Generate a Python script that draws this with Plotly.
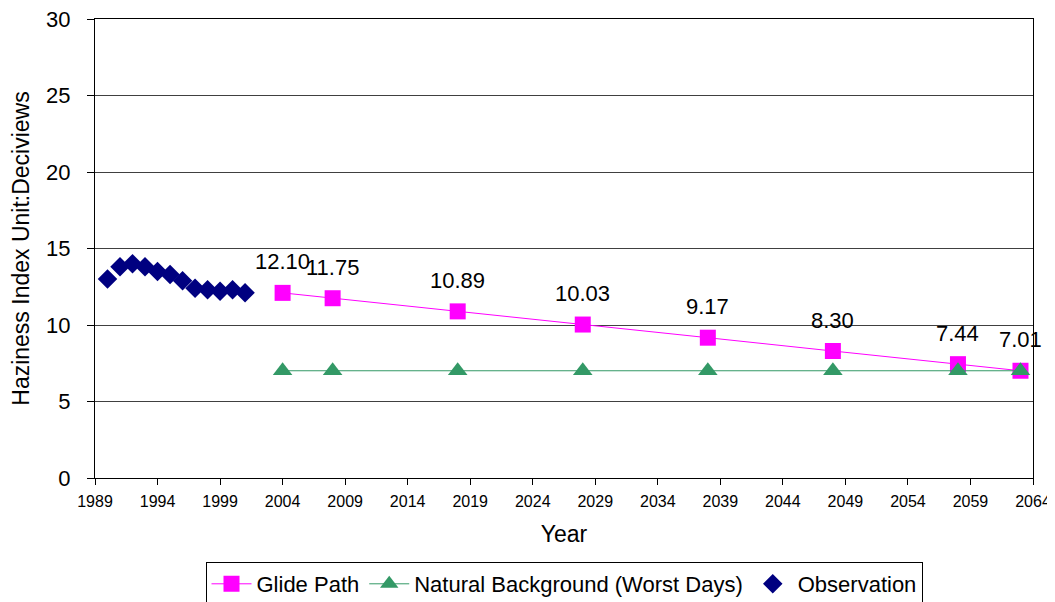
import plotly.graph_objects as go

obs_years = [1990, 1991, 1992, 1993, 1994, 1995, 1996, 1997, 1998, 1999, 2000, 2001]
obs_values = [13.0, 13.8, 14.0, 13.8, 13.5, 13.3, 12.9, 12.4, 12.3, 12.2, 12.3, 12.1]

glide_years = [2004, 2008, 2018, 2028, 2038, 2048, 2058, 2063]
glide_values = [12.10, 11.75, 10.89, 10.03, 9.17, 8.30, 7.44, 7.01]

natural_years = [2004, 2008, 2018, 2028, 2038, 2048, 2058, 2063]
natural_values = [7.01, 7.01, 7.01, 7.01, 7.01, 7.01, 7.01, 7.01]

x_ticks = list(range(1989, 2065, 5))
y_ticks = [0, 5, 10, 15, 20, 25, 30]

FONT = "Liberation Sans, Arial, sans-serif"

fig = go.Figure()
fig.add_trace(go.Scatter(
    x=glide_years, y=glide_values, mode="lines+markers", name="Glide Path",
    line=dict(color="#FF00FF", width=1),
    marker=dict(symbol="square", size=16, color="#FF00FF"),
))
fig.add_trace(go.Scatter(
    x=natural_years, y=natural_values, mode="lines+markers", name="Natural Background (Worst Days)",
    line=dict(color="#339966", width=1),
    marker=dict(symbol="triangle-up", size=17, color="#339966"),
))
fig.add_trace(go.Scatter(
    x=obs_years, y=obs_values, mode="markers", name="Observation",
    marker=dict(symbol="diamond", size=15, color="#000080"),
))

for xv, yv in zip(glide_years, glide_values):
    fig.add_annotation(x=xv, y=yv, text=f"{yv:.2f}", showarrow=False,
                       yshift=31, font=dict(family=FONT, size=22, color="black"))

# the page body adds an 8px offset, so margins are shifted accordingly
fig.update_layout(
    width=1055, height=602,
    margin=dict(l=87, r=30, t=11, b=132, autoexpand=False),
    paper_bgcolor="white", plot_bgcolor="white",
    font=dict(family=FONT, color="black"),
    showlegend=True,
    legend=dict(orientation="h", x=0.5, xanchor="center", y=-0.183, yanchor="top",
                bordercolor="black", borderwidth=1, font=dict(size=22, family=FONT),
                itemwidth=40, tracegroupgap=0),
    xaxis=dict(
        range=[1989, 2064], tickvals=x_ticks, ticktext=[str(t) for t in x_ticks],
        tickfont=dict(size=16), ticks="outside", ticklen=6, tickcolor="black",
        ticklabelstandoff=3, ticklabeloverflow="allow",
        showline=True, linecolor="black", linewidth=1, mirror=True,
        showgrid=False, zeroline=False,
        automargin=False,
        title=dict(text="Year", font=dict(size=23), standoff=16),
    ),
    yaxis=dict(
        range=[0, 30], tickvals=y_ticks, tickfont=dict(size=22),
        ticks="outside", ticklen=7, tickcolor="black", ticklabelstandoff=12,
        ticklabeloverflow="allow",
        showline=True, linecolor="black", linewidth=1, mirror=True,
        showgrid=True, gridcolor="#404040", gridwidth=1, zeroline=False,
        automargin=False,
        title=dict(text="Haziness Index Unit:Deciviews", font=dict(size=23), standoff=10),
    ),
)

fig.write_html("out.html")
